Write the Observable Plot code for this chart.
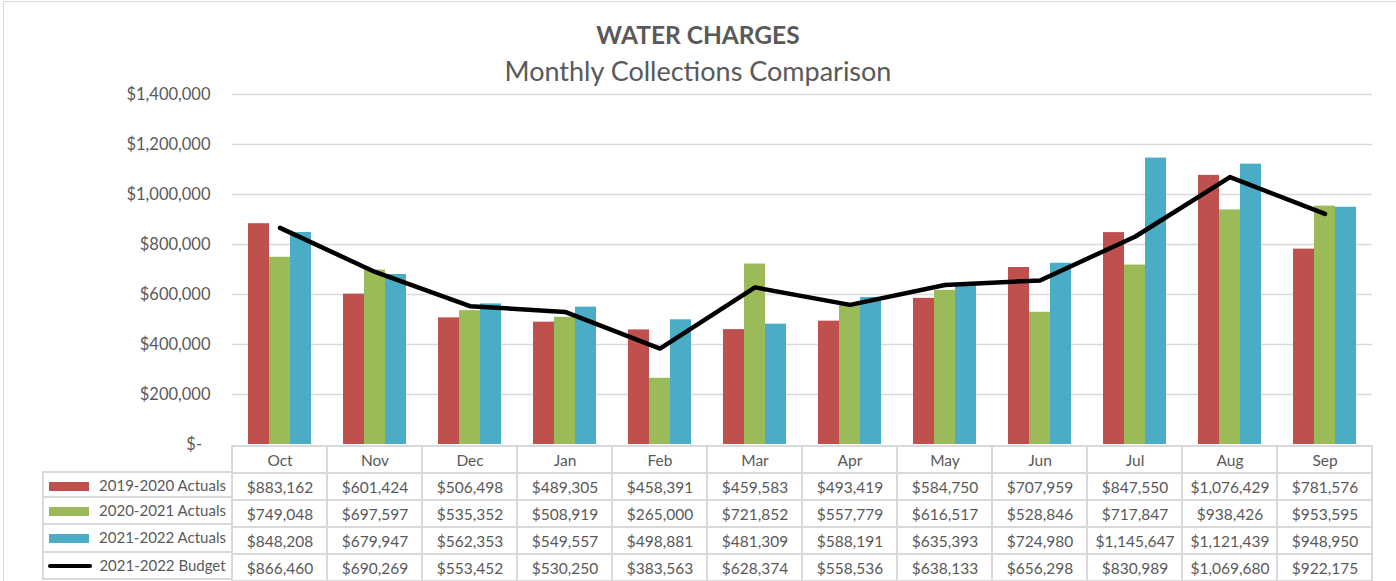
<!DOCTYPE html>
<html>
<head>
<meta charset="utf-8">
<script src="https://cdn.jsdelivr.net/npm/d3@7"></script>
<script src="https://cdn.jsdelivr.net/npm/@observablehq/plot@0.6"></script>
<style>
  html, body { margin: 0; padding: 0; background: #fff; }
  #wrap { position: relative; width: 1396px; height: 581px; overflow: hidden; background: #fff; font-family: Lato, "Open Sans", sans-serif; color: #595959; }
  #border { position: absolute; left: 3px; top: 1px; width: 1500px; height: 700px; border-left: 1.5px solid #d9d9d9; border-top: 1.5px solid #d9d9d9; }
  #title { position: absolute; left: 0; top: 20px; width: 1396px; text-align: center; font-weight: bold; font-size: 24.5px; line-height: 30px; }
  #subtitle { position: absolute; left: 0; top: 55px; width: 1396px; text-align: center; font-size: 27px; line-height: 32px; }
  #chart, #table { position: absolute; left: 0; }
  #chart { top: 0; }
  #table { top: 444px; }
  #legend { position: absolute; left: 42px; top: 471px; width: 190px; }
  .lrow { position: relative; height: 27.2px; box-sizing: border-box; border-left: 2px solid #d9d9d9; border-bottom: 2px solid #d9d9d9; }
  .lrow:first-child { border-top: 2px solid #d9d9d9; }
  .sw { position: absolute; left: 5px; top: 9px; width: 40px; height: 9px; }
  .sw.line { height: 4.5px; top: 11px; left: 4px; width: 44px; border-radius: 3px; }
  .lt { position: absolute; left: 47px; width: 143px; top: 0; line-height: 25px; text-align: center; font-size: 15px; white-space: nowrap; }
</style>
</head>
<body>
<div id="wrap">
  <div id="border"></div>
  <div id="chart"></div>
  <div id="table"></div>
  <div id="legend"></div>
  <div id="title"></div>
  <div id="subtitle"></div>
</div>
<script>
// ---- data ----
const titleText = "WATER CHARGES";
const subtitleText = "Monthly Collections Comparison";
const months = ["Oct","Nov","Dec","Jan","Feb","Mar","Apr","May","Jun","Jul","Aug","Sep"];
const seriesNames = ["2019-2020 Actuals","2020-2021 Actuals","2021-2022 Actuals","2021-2022 Budget"];
const actuals1920 = [883162,601424,506498,489305,458391,459583,493419,584750,707959,847550,1076429,781576];
const actuals2021 = [749048,697597,535352,508919,265000,721852,557779,616517,528846,717847,938426,953595];
const actuals2122 = [848208,679947,562353,549557,498881,481309,588191,635393,724980,1145647,1121439,948950];
const budget2122  = [866460,690269,553452,530250,383563,628374,558536,638133,656298,830989,1069680,922175];
const yTicks = [0,200000,400000,600000,800000,1000000,1200000,1400000];
const colors = ["#C0504D","#9BBB59","#4BACC6","#000000"];

// ---- build tables ----
const seriesValues = [actuals1920, actuals2021, actuals2122, budget2122];
const rows = months.map((m, i) => ({month: m, a: actuals1920[i], b: actuals2021[i], c: actuals2122[i], budget: budget2122[i]}));
const money = d3.format(",");
const fmt = v => "$" + money(v);
const headerKey = "Month";
const cells = [];
months.forEach(m => cells.push({month: m, row: headerKey, text: m}));
seriesNames.forEach((s, si) => months.forEach((m, i) => cells.push({month: m, row: s, text: fmt(seriesValues[si][i])})));

document.getElementById("title").textContent = titleText;
document.getElementById("subtitle").textContent = subtitleText;

const W = 1396, ML = 232, MR = 24;
const grid = "#d9d9d9";
const textColor = "#595959";

// ---- main chart ----
const chart = Plot.plot({
  width: W, height: 462,
  marginLeft: ML, marginRight: MR, marginTop: 94, marginBottom: 18,
  style: {fontFamily: "Lato, 'Open Sans', sans-serif", fontSize: "16.5px", color: textColor, background: "transparent"},
  x: {type: "band", domain: months, padding: 0, axis: null},
  y: {domain: [0, 1400000], ticks: yTicks, tickSize: 0, tickPadding: 22, label: null,
      tickFormat: v => v === 0 ? "$-\u00a0\u00a0" : fmt(v)},
  marks: [
    Plot.ruleY(yTicks.filter(t => t > 0), {stroke: grid, strokeWidth: 1.3}),
    Plot.barY(rows, {x: "month", y: "a", fill: colors[0], insetLeft: 16, insetRight: 58}),
    Plot.barY(rows, {x: "month", y: "b", fill: colors[1], insetLeft: 37, insetRight: 37}),
    Plot.barY(rows, {x: "month", y: "c", fill: colors[2], insetLeft: 58, insetRight: 16}),
    Plot.lineY(rows, {x: "month", y: "budget", stroke: colors[3], strokeWidth: 4.5, strokeLinecap: "round", strokeLinejoin: "round"})
  ]
});
document.getElementById("chart").appendChild(chart);

// ---- data table ----
const table = Plot.plot({
  width: W, height: 139,
  marginLeft: ML, marginRight: MR, marginTop: 1, marginBottom: 2,
  style: {fontFamily: "Lato, 'Open Sans', sans-serif", fontSize: "15.5px", color: textColor, background: "transparent"},
  x: {type: "band", domain: months, padding: 0, axis: null},
  y: {type: "band", domain: [headerKey, ...seriesNames], padding: 0, axis: null},
  marks: [
    Plot.cell(cells, {x: "month", y: "row", fill: "white", stroke: grid, strokeWidth: 2}),
    Plot.text(cells, {x: "month", y: "row", text: "text", fill: textColor, fontSize: 15.5, dy: 1})
  ]
});
document.getElementById("table").appendChild(table);

// ---- legend column ----
const legend = document.getElementById("legend");
seriesNames.forEach((s, i) => {
  const r = document.createElement("div");
  r.className = "lrow";
  const sw = document.createElement("div");
  sw.className = "sw" + (i === 3 ? " line" : "");
  sw.style.background = colors[i];
  const t = document.createElement("div");
  t.className = "lt";
  t.textContent = s;
  r.appendChild(sw); r.appendChild(t);
  legend.appendChild(r);
});
</script>
</body>
</html>
